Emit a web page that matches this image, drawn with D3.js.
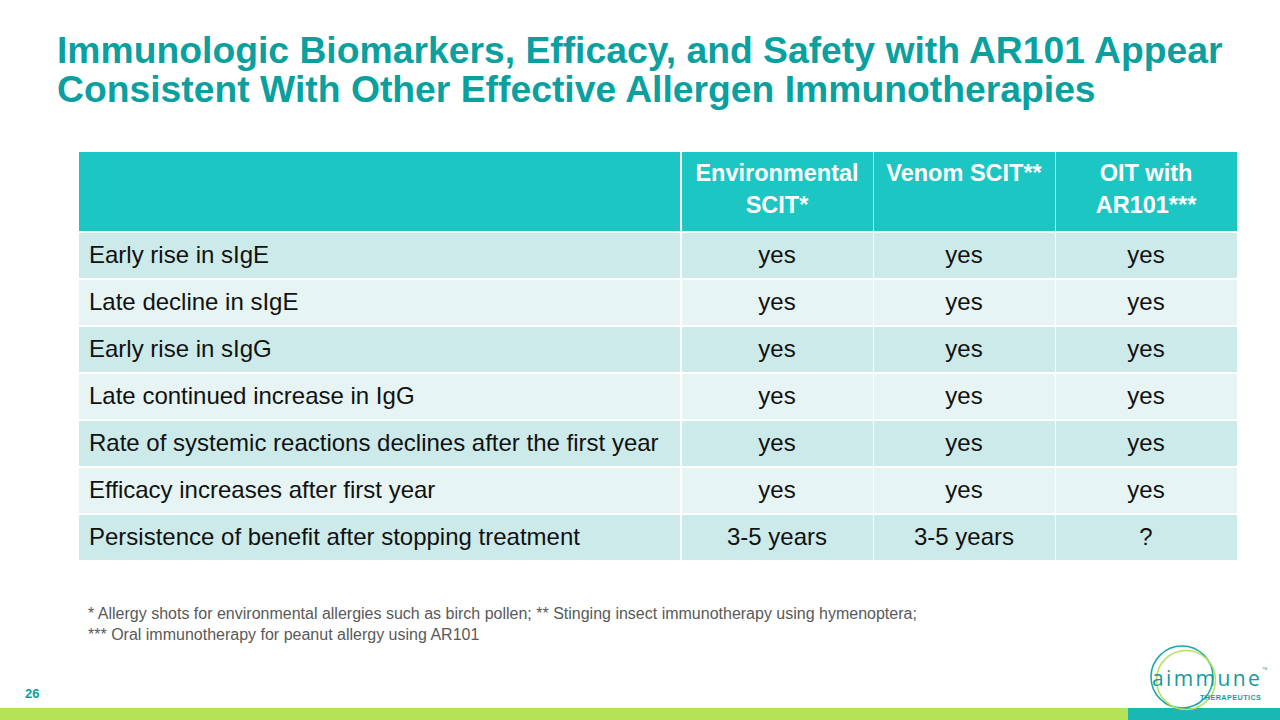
<!DOCTYPE html>
<html><head><meta charset="utf-8">
<script src="https://cdn.jsdelivr.net/npm/d3@7/dist/d3.min.js"></script>
<style>
html,body{margin:0;padding:0;background:#fff;}
svg{display:block;font-family:"Liberation Sans",Arial,sans-serif;}
</style></head>
<body><svg id="c" width="1280" height="720"></svg>
<script>
const titleLines = ["Immunologic Biomarkers, Efficacy, and Safety with AR101 Appear",
                    "Consistent With Other Effective Allergen Immunotherapies"];
const columns = ["Environmental SCIT*", "Venom SCIT**", "OIT with AR101***"];
const columnLines = [["Environmental","SCIT*"],["Venom SCIT**"],["OIT with","AR101***"]];
const rowLabels = ["Early rise in sIgE","Late decline in sIgE","Early rise in sIgG",
  "Late continued increase in IgG","Rate of systemic reactions declines after the first year",
  "Efficacy increases after first year","Persistence of benefit after stopping treatment"];
const envValues   = ["yes","yes","yes","yes","yes","yes","3-5 years"];
const venomValues = ["yes","yes","yes","yes","yes","yes","3-5 years"];
const oitValues   = ["yes","yes","yes","yes","yes","yes","?"];
const footnotes = ["* Allergy shots for environmental allergies such as birch pollen; ** Stinging insect immunotherapy using hymenoptera;",
                   "*** Oral immunotherapy for peanut allergy using AR101"];
const pageNumber = "26";

const svg = d3.select("#c");
const teal = "#0aa0a0";

// title
svg.append("g").selectAll("text").data(titleLines).join("text")
  .attr("x", 57).attr("y", (d,i)=>63+i*39)
  .attr("font-size", 37.3).attr("font-weight", "bold").attr("fill", teal)
  .text(d=>d);

// table geometry via scales
const colKeys = ["label", ...columns];
const colEdges = [79, 681, 873, 1055, 1237];
const colX = d3.scaleOrdinal().domain(colKeys).range(colEdges.slice(0,4));
const colW = d3.scaleOrdinal().domain(colKeys).range(d3.pairs(colEdges).map(p=>p[1]-p[0]));
const headerTop = 152, headerBottom = 232;
const rowY = d3.scaleBand().domain(rowLabels).range([headerBottom, 561]).paddingInner(0);
const gap = 2;

const table = svg.append("g");
// header
table.selectAll("rect.h").data(colKeys).join("rect").attr("class","h")
  .attr("x", d=>colX(d)+(d==="label"?0:1)).attr("y", headerTop)
  .attr("width", d=>colW(d)-1).attr("height", headerBottom-headerTop-gap/2)
  .attr("fill", "#1cc6c3");
columns.forEach((c,ci)=>{
  table.append("g").selectAll("text").data(columnLines[ci]).join("text")
    .attr("x", colX(c)+colW(c)/2).attr("y", (d,i)=>181+i*32)
    .attr("text-anchor","middle").attr("font-size",23.5).attr("font-weight","bold")
    .attr("fill","#fff").text(d=>d);
});

const rows = rowLabels.map((r,i)=>({label:r, vals:[envValues[i],venomValues[i],oitValues[i]], i}));
const rg = table.selectAll("g.row").data(rows).join("g").attr("class","row");
rg.each(function(r){
  const g = d3.select(this);
  const y = rowY(r.label)+gap/2, h = rowY.bandwidth()-gap;
  const fill = r.i%2===0 ? "#cdeaea" : "#e6f4f4";
  colKeys.forEach((k,ki)=>{
    g.append("rect").attr("x", colX(k)+(ki===0?0:1)).attr("y", y)
      .attr("width", colW(k)-1).attr("height", h).attr("fill", fill);
  });
  g.append("text").attr("x", 89).attr("y", y+h/2+7.5).attr("font-size",24)
    .attr("fill","#111").text(r.label);
  columns.forEach((c,ci)=>{
    g.append("text").attr("x", colX(c)+colW(c)/2).attr("y", y+h/2+7.5)
      .attr("text-anchor","middle").attr("font-size",24).attr("fill","#111").text(r.vals[ci]);
  });
});

// footnotes
svg.append("g").selectAll("text").data(footnotes).join("text")
  .attr("x", 88).attr("y",(d,i)=>619+i*21).attr("font-size",16).attr("fill","#595959").text(d=>d);

// page number
svg.append("text").attr("x",25).attr("y",698).attr("font-size",13).attr("font-weight","bold")
  .attr("fill",teal).text(pageNumber);

// bottom bar
svg.append("rect").attr("x",0).attr("y",708).attr("width",1128).attr("height",12).attr("fill","#b6e256");
svg.append("rect").attr("x",1128).attr("y",708).attr("width",152).attr("height",12).attr("fill","#1ab8b4");

// logo
const logo = svg.append("g");
logo.append("circle").attr("cx",1182).attr("cy",677).attr("r",31).attr("fill","none").attr("stroke","#1aa9b0").attr("stroke-width",1.6);
logo.append("circle").attr("cx",1186).attr("cy",680).attr("r",29.5).attr("fill","none").attr("stroke","#b6e256").attr("stroke-width",1.5);
logo.append("text").attr("x",1152).attr("y",686).attr("font-size",21).attr("letter-spacing",2.4)
  .attr("font-family","'Open Sans',sans-serif").attr("font-weight",400).attr("fill","#159aa3").text("aimmune");
logo.append("text").attr("x",1262).attr("y",670).attr("font-size",3.5).attr("fill","#159aa3").text("TM");
logo.append("text").attr("x",1200).attr("y",700).attr("font-size",7.2).attr("font-weight","bold")
  .attr("letter-spacing",0.45).attr("fill","#159aa3").text("THERAPEUTICS");
</script></body></html>
